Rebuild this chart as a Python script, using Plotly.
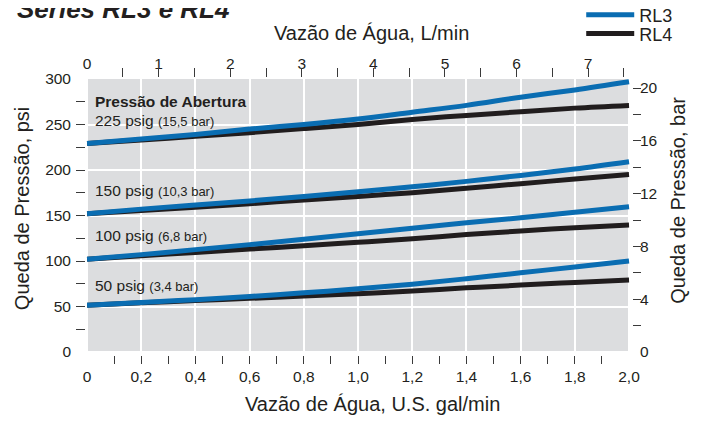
import plotly.graph_objects as go

# ---------------- data ----------------
flow_gpm = [0, 0.2, 0.4, 0.6, 0.8, 1.0, 1.2, 1.4, 1.6, 1.8, 2.0]

rl3_225 = [229, 234, 239, 245, 250, 256, 263.5, 271, 280, 288, 297]
rl4_225 = [229, 233, 237, 241, 245.5, 250, 255.5, 260, 264, 268, 271]
rl3_150 = [152, 157, 161.5, 166, 171, 176, 181.5, 187.5, 194, 201, 209]
rl4_150 = [152, 155.5, 159, 163, 167, 171, 175, 180, 185, 190, 195]
rl3_100 = [102, 107, 112.5, 118, 124, 130, 136, 142, 147.5, 153.5, 159.5]
rl4_100 = [102, 105.7, 109.4, 113.1, 116.8, 120.5, 124.5, 129, 133, 136.5, 139.5]
rl3_50 = [51.5, 54.5, 57.5, 61, 65, 69.5, 74.5, 80.5, 87, 93.5, 100]
rl4_50 = [51.5, 54, 56.5, 59, 61.5, 64, 67, 70.5, 73.5, 76.5, 79]

gpm_tick_vals = [0, 0.2, 0.4, 0.6, 0.8, 1.0, 1.2, 1.4, 1.6, 1.8, 2.0]
gpm_tick_text = ["0", "0,2", "0,4", "0,6", "0,8", "1,0", "1,2", "1,4", "1,6", "1,8", "2,0"]
gpm_minor_vals = [0.1, 0.2, 0.3, 0.4, 0.5, 0.6, 0.7, 0.8, 0.9, 1.0,
                  1.1, 1.2, 1.3, 1.4, 1.5, 1.6, 1.7, 1.8, 1.9]
lpm_tick_vals = [0, 1, 2, 3, 4, 5, 6, 7]
lpm_minor_vals = [0.5, 1, 1.5, 2, 2.5, 3, 3.5, 4, 4.5, 5, 5.5, 6, 6.5, 7, 7.5]
psi_tick_vals = [0, 50, 100, 150, 200, 250, 300]
psi_minor_vals = [25, 50, 75, 100, 125, 150, 175, 200, 225, 250, 275]
bar_tick_vals = [0, 4, 8, 12, 16, 20]
bar_minor_vals = [2, 4, 6, 8, 10, 12, 14, 16, 18, 20]

series_labels = ["RL3", "RL4"]
opening_labels = [
    ("225 psig", "(15,5 bar)", 254),
    ("150 psig", "(10,3 bar)", 177.5),
    ("100 psig", "(6,8 bar)", 128),
    ("50 psig", "(3,4 bar)", 73),
]

# ---------------- style ----------------
BLUE = "#0a6db2"
BLACK = "#211d1e"
GREY = "#dcdddf"
TXT = "#231f20"
TICK = "#3a3a3a"
FONT = "Liberation Sans, Arial, Helvetica, sans-serif"

L_PER_GAL = 3.78541
PSI_PER_BAR = 14.5038
X_RANGE = [-0.004, 2.011]
Y_RANGE = [-3.3, 301.1]
X2_RANGE = [X_RANGE[0] * L_PER_GAL, X_RANGE[1] * L_PER_GAL]
Y2_RANGE = [Y_RANGE[0] / PSI_PER_BAR, Y_RANGE[1] / PSI_PER_BAR]

fig = go.Figure()

black_sets = [rl4_225, rl4_150, rl4_100, rl4_50]
blue_sets = [rl3_225, rl3_150, rl3_100, rl3_50]
for i, ys in enumerate(black_sets):
    fig.add_trace(go.Scatter(
        x=flow_gpm, y=ys, mode="lines", name=series_labels[1],
        line=dict(color=BLACK, width=5, shape="spline"),
        showlegend=(i == 0), legend="legend2", hoverinfo="skip"))
for i, ys in enumerate(blue_sets):
    fig.add_trace(go.Scatter(
        x=flow_gpm, y=ys, mode="lines", name=series_labels[0],
        line=dict(color=BLUE, width=5, shape="spline"),
        showlegend=(i == 0), legend="legend", hoverinfo="skip"))

# empty traces so that the secondary / tick-only axes get drawn
for xa, ya in [("x2", "y"), ("x3", "y"), ("x4", "y"),
               ("x", "y2"), ("x", "y3"), ("x", "y4")]:
    fig.add_trace(go.Scatter(x=[], y=[], xaxis=xa, yaxis=ya,
                             showlegend=False, hoverinfo="skip"))

# grey plotting field drawn beneath the grid
fig.add_shape(type="rect", xref="x", yref="y", x0=0, x1=2.0, y0=0, y1=300,
              fillcolor=GREY, line=dict(width=0), layer="below")

tickfont = dict(family=FONT, size=15.5, color=TXT)
titlefont = dict(family=FONT, size=20, color=TXT)
legendfont = dict(family=FONT, size=18, color=TXT)

dash_common = dict(ticks="outside", tickwidth=1.4, tickcolor=TICK,
                   showticklabels=False, showgrid=False, zeroline=False,
                   showline=False, automargin=False, tickmode="array")
label_common = dict(ticks="", zeroline=False, showline=False,
                    automargin=False, tickmode="array", tickfont=tickfont)
legend_common = dict(x=0.907, xref="paper", yref="paper", xanchor="left",
                     yanchor="top", font=legendfont,
                     bgcolor="rgba(0,0,0,0)", itemwidth=48)

fig.update_layout(
    width=704, height=421,
    margin=dict(l=78, r=80, t=70, b=74, pad=0, autoexpand=False),
    paper_bgcolor="white", plot_bgcolor="white",
    font=dict(family=FONT, color=TXT),
    showlegend=True,
    legend=dict(y=1.294, **legend_common),
    legend2=dict(y=1.226, **legend_common),
    xaxis=dict(range=X_RANGE, tickvals=gpm_tick_vals, ticktext=gpm_tick_text,
               showgrid=True, gridcolor="white", gridwidth=1.6,
               ticklabelstandoff=10, **label_common),
    xaxis3=dict(range=X_RANGE, overlaying="x", side="bottom", anchor="y",
                tickvals=gpm_minor_vals, ticklen=8, **dash_common),
    xaxis2=dict(range=X2_RANGE, overlaying="x", side="top", anchor="y",
                tickvals=lpm_tick_vals, showgrid=False, ticklabelstandoff=5,
                **label_common),
    xaxis4=dict(range=X2_RANGE, overlaying="x", side="top", anchor="y",
                tickvals=lpm_minor_vals, ticklen=9, **dash_common),
    yaxis=dict(range=Y_RANGE, tickvals=psi_tick_vals, showgrid=True,
               gridcolor="white", gridwidth=1.6, ticklabelstandoff=14,
               **label_common),
    yaxis3=dict(range=Y_RANGE, overlaying="y", side="left", anchor="x",
                tickvals=psi_minor_vals, ticklen=9, **dash_common),
    yaxis2=dict(range=Y2_RANGE, overlaying="y", side="right", anchor="x",
                tickvals=bar_tick_vals, showgrid=False, ticklabelstandoff=7,
                **label_common),
    yaxis4=dict(range=Y2_RANGE, overlaying="y", side="right", anchor="x",
                tickvals=bar_minor_vals, ticklen=8, **dash_common),
)

# axis titles
axis_titles = [
    ("Vazão de Água, U.S. gal/min", 0.525, -0.177, 0),
    ("Vazão de Água, L/min", 0.522, 1.162, 0),
    ("Queda de Pressão, psi", -0.117, 0.527, -90),
    ("Queda de Pressão, bar", 1.085, 0.558, -90),
]
for text, xp, yp, ang in axis_titles:
    fig.add_annotation(text=text, xref="paper", yref="paper", x=xp, y=yp,
                       xanchor="center", yanchor="middle", textangle=ang,
                       showarrow=False, font=titlefont)

# chart title (partly cropped at the top, as in the reference)
fig.add_annotation(text="<b><i>Séries RL3 e RL4</i></b>", xref="paper",
                   yref="paper", x=-0.13, y=1.25, xanchor="left",
                   yanchor="middle", showarrow=False,
                   font=dict(family=FONT, size=26, color=TXT))

fig.add_annotation(text="<b>Pressão de Abertura</b>", xref="x", yref="y",
                   x=0.02, y=275, xanchor="left", yanchor="middle",
                   showarrow=False, font=dict(family=FONT, size=15.5, color=TXT))
for main, sub, yv in opening_labels:
    fig.add_annotation(
        text=f"{main} <span style='font-size:13px'>{sub}</span>",
        xref="x", yref="y", x=0.02, y=yv, xanchor="left", yanchor="middle",
        showarrow=False, font=dict(family=FONT, size=15.5, color=TXT))

fig.write_html("out.html")
